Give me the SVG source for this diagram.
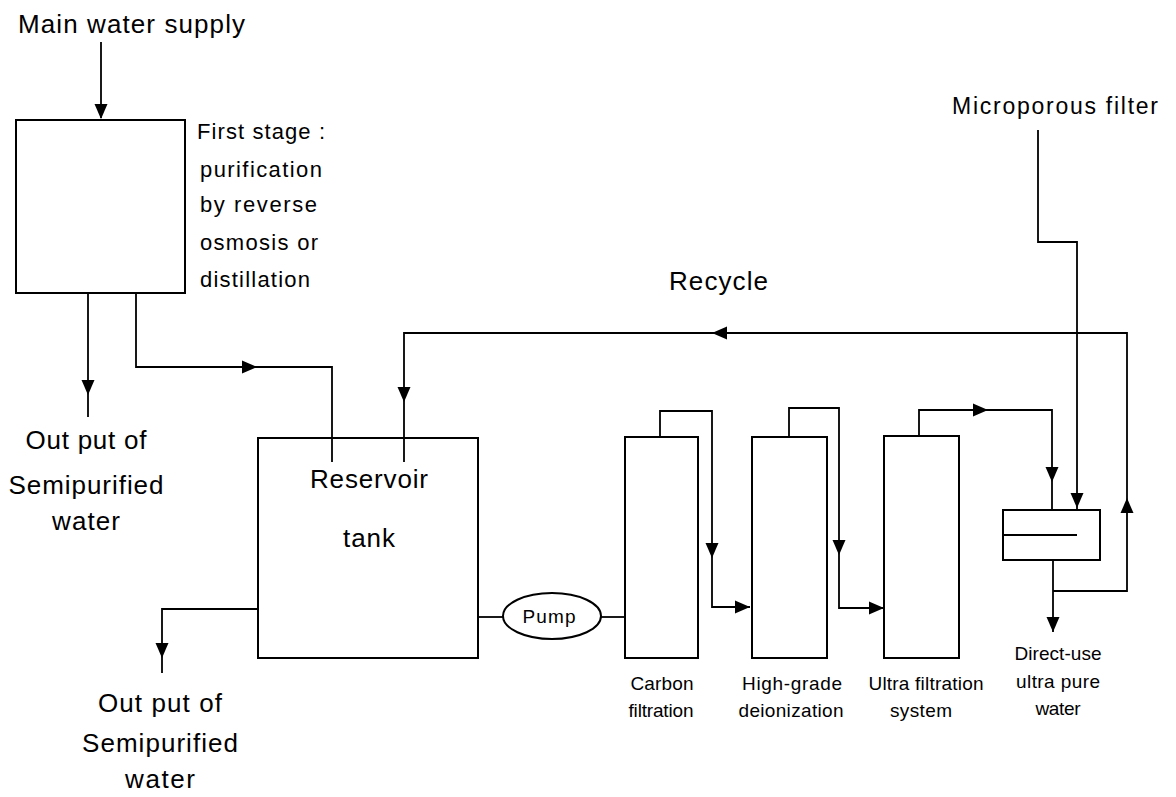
<svg xmlns="http://www.w3.org/2000/svg" xmlns:xlink="http://www.w3.org/1999/xlink" width="1176" height="797" viewBox="0 0 1176 797">
<style>
  .box { fill: none; stroke: #000; stroke-width: 2; }
  .ln { fill: none; stroke: #000; stroke-width: 1.8; stroke-linejoin: miter; }
  text { font-family: "Liberation Sans", Arial, sans-serif; fill: #000; }
  .big { font-size: 26px; }
  .mid { font-size: 22px; }
  .mp { font-size: 23px; }
  .sm { font-size: 19px; }
  .c { text-anchor: middle; }
</style>
<defs>
  <polygon id="ah" points="0,0 -15,-6.5 -15,6.5" fill="#000"/>
</defs>
<rect width="1176" height="797" fill="#fff"/>

<g id="connectors">
  <line class="ln" x1="101" y1="42" x2="101" y2="118"/>
  <line class="ln" x1="88" y1="293" x2="88" y2="417"/>
  <polyline class="ln" points="136,293 136,367 332,367 332,462"/>
  <polyline class="ln" points="404,462 404,333 1127,333 1127,591 1053,591"/>
  <polyline class="ln" points="258,609 162,609 162,673"/>
  <line class="ln" x1="478" y1="617" x2="503" y2="617"/>
  <line class="ln" x1="601" y1="617" x2="625" y2="617"/>
  <polyline class="ln" points="660,437 660,411 712,411 712,607 750,607"/>
  <polyline class="ln" points="789,437 789,408 839,408 839,608 884,608"/>
  <polyline class="ln" points="919,436 919,410 1052,410 1052,510"/>
  <polyline class="ln" points="1038,130 1038,242 1077,242 1077,510"/>
  <line class="ln" x1="1053" y1="560" x2="1053" y2="632"/>

  <use xlink:href="#ah" transform="translate(101,119) rotate(90)"/>
  <use xlink:href="#ah" transform="translate(88,395) rotate(90)"/>
  <use xlink:href="#ah" transform="translate(257,367)"/>
  <use xlink:href="#ah" transform="translate(404,402) rotate(90)"/>
  <use xlink:href="#ah" transform="translate(712,333) rotate(180)"/>
  <use xlink:href="#ah" transform="translate(162,658) rotate(90)"/>
  <use xlink:href="#ah" transform="translate(712,558) rotate(90)"/>
  <use xlink:href="#ah" transform="translate(750,607)"/>
  <use xlink:href="#ah" transform="translate(839,555) rotate(90)"/>
  <use xlink:href="#ah" transform="translate(884,608)"/>
  <use xlink:href="#ah" transform="translate(988,410)"/>
  <use xlink:href="#ah" transform="translate(1052,482) rotate(90)"/>
  <use xlink:href="#ah" transform="translate(1077,508) rotate(90)"/>
  <use xlink:href="#ah" transform="translate(1127,498) rotate(-90)"/>
  <use xlink:href="#ah" transform="translate(1053,632) rotate(90)"/>
</g>

<g id="main-water-supply">
  <text class="big" x="18" y="33" textLength="227" lengthAdjust="spacing">Main water supply</text>
</g>

<g id="first-stage">
  <rect class="box" x="16" y="120" width="169" height="173"/>
  <text class="mid" x="197" y="139" textLength="128" lengthAdjust="spacing">First stage :</text>
  <text class="mid" x="200" y="177" textLength="122" lengthAdjust="spacing">purification</text>
  <text class="mid" x="200" y="212" textLength="117" lengthAdjust="spacing">by reverse</text>
  <text class="mid" x="200" y="250" textLength="118" lengthAdjust="spacing">osmosis or</text>
  <text class="mid" x="200" y="287" textLength="110" lengthAdjust="spacing">distillation</text>
</g>

<g id="output-1">
  <text class="big c" x="86" y="449" textLength="121" lengthAdjust="spacing">Out put of</text>
  <text class="big c" x="86" y="494" textLength="155" lengthAdjust="spacing">Semipurified</text>
  <text class="big c" x="86" y="530" textLength="68" lengthAdjust="spacing">water</text>
</g>

<g id="reservoir">
  <rect class="box" x="258" y="438" width="220" height="220"/>
  <text class="big c" x="369" y="488" textLength="118" lengthAdjust="spacing">Reservoir</text>
  <text class="big c" x="369" y="547" textLength="52" lengthAdjust="spacing">tank</text>
</g>

<g id="output-2">
  <text class="big c" x="160" y="712" textLength="124" lengthAdjust="spacing">Out put of</text>
  <text class="big c" x="160" y="752" textLength="156" lengthAdjust="spacing">Semipurified</text>
  <text class="big c" x="160" y="788" textLength="70" lengthAdjust="spacing">water</text>
</g>

<g id="recycle-label">
  <text class="big" x="669" y="290" textLength="99" lengthAdjust="spacing">Recycle</text>
</g>

<g id="pump">
  <ellipse class="box" cx="552" cy="616" rx="49" ry="23"/>
  <text class="sm c" x="549" y="623" textLength="53" lengthAdjust="spacing">Pump</text>
</g>

<g id="carbon-filtration">
  <rect class="box" x="625" y="437" width="73" height="221"/>
  <text class="sm c" x="662" y="690" textLength="63" lengthAdjust="spacing">Carbon</text>
  <text class="sm c" x="661" y="717" textLength="65" lengthAdjust="spacing">filtration</text>
</g>

<g id="deionization">
  <rect class="box" x="752" y="437" width="75" height="221"/>
  <text class="sm c" x="792" y="690" textLength="100" lengthAdjust="spacing">High-grade</text>
  <text class="sm c" x="791" y="717" textLength="105" lengthAdjust="spacing">deionization</text>
</g>

<g id="ultra-filtration">
  <rect class="box" x="884" y="436" width="75" height="222"/>
  <text class="sm c" x="926" y="690" textLength="115" lengthAdjust="spacing">Ultra filtration</text>
  <text class="sm c" x="921" y="717" textLength="62" lengthAdjust="spacing">system</text>
</g>

<g id="microporous-filter">
  <text class="mp" x="952" y="114" textLength="206" lengthAdjust="spacing">Microporous filter</text>
  <rect class="box" x="1003" y="510" width="97" height="50"/>
  <line class="ln" x1="1003" y1="535" x2="1077" y2="535"/>
</g>

<g id="direct-use">
  <text class="sm c" x="1058" y="660" textLength="87" lengthAdjust="spacing">Direct-use</text>
  <text class="sm c" x="1058" y="688" textLength="84" lengthAdjust="spacing">ultra pure</text>
  <text class="sm c" x="1058" y="715" textLength="45" lengthAdjust="spacing">water</text>
</g>
</svg>
